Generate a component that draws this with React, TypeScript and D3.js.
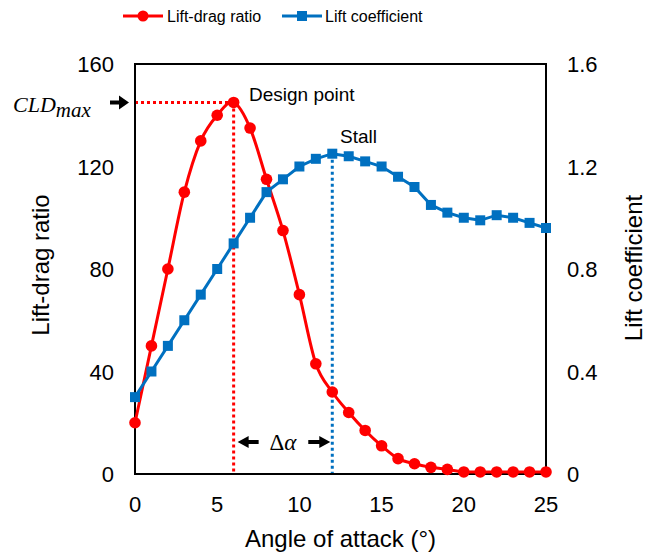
import React from "react";
import * as d3 from "d3";

const angles = d3.range(0, 26);
const liftDrag = [20, 50, 80, 110, 130, 140, 145, 135, 115, 95, 70, 43, 32, 24, 17, 11, 6, 4, 2.6, 1.8, 0.8, 0.8, 0.8, 0.8, 0.8, 0.8];
const liftCoef = [0.30, 0.40, 0.50, 0.60, 0.70, 0.80, 0.90, 1.00, 1.10, 1.15, 1.20, 1.23, 1.25, 1.24, 1.22, 1.20, 1.16, 1.12, 1.05, 1.02, 1.00, 0.99, 1.01, 1.00, 0.98, 0.96];
const xTicks = [0, 5, 10, 15, 20, 25];
const leftTicks = [0, 40, 80, 120, 160];
const rightTicks = [0, 0.4, 0.8, 1.2, 1.6];
const designAngle = 6;
const stallAngle = 12;

const RED = "#FF0000";
const BLUE = "#0070C0";
const FONT = "'Liberation Sans', Arial, sans-serif";
const SERIF = "'Liberation Serif', 'DejaVu Serif', serif";

export default function App() {
  const W = 660, H = 556;
  const left = 135, right = 546, top = 64, bottom = 474;
  const x = d3.scaleLinear().domain([0, 25]).range([left, right]);
  const yL = d3.scaleLinear().domain([0, 160]).range([bottom, top]);
  const yR = d3.scaleLinear().domain([0, 1.6]).range([bottom, top]);

  const redLine = d3.line<number>().x((_, i) => x(angles[i])).y((d) => yL(d)).curve(d3.curveCardinal.tension(0))(liftDrag) || "";
  const blueLine = d3.line<number>().x((_, i) => x(angles[i])).y((d) => yR(d))(liftCoef) || "";

  const dIdx = angles.indexOf(designAngle);
  const sIdx = angles.indexOf(stallAngle);
  const peakY = yL(liftDrag[dIdx]);
  const stallY = yR(liftCoef[sIdx]);
  const xd = x(designAngle);
  const xs = x(stallAngle);
  const arrowY = 442;

  return (
    <svg width={W} height={H} style={{ position: "absolute", left: 0, top: 0, background: "#fff" }} fontFamily={FONT}>
      <rect x={0} y={0} width={W} height={H} fill="#fff" />
      {/* legend */}
      <g>
        <line x1={123} x2={163} y1={16} y2={16} stroke={RED} strokeWidth={3} />
        <circle cx={143} cy={16} r={5.5} fill={RED} />
        <text x={167} y={22} fontSize={16} fill="#000">Lift-drag ratio</text>
        <line x1={282} x2={322} y1={16} y2={16} stroke={BLUE} strokeWidth={3} />
        <rect x={297} y={11} width={10} height={10} fill={BLUE} />
        <text x={325} y={22} fontSize={16} fill="#000">Lift coefficient</text>
      </g>

      {/* dotted guide lines */}
      <line x1={left} x2={xd} y1={peakY} y2={peakY} stroke={RED} strokeWidth={3} strokeDasharray="3,3" />
      <line x1={xd} x2={xd} y1={peakY} y2={bottom} stroke={RED} strokeWidth={3} strokeDasharray="3,3" />
      <line x1={xs} x2={xs} y1={stallY} y2={bottom} stroke={BLUE} strokeWidth={3} strokeDasharray="3,3" />

      {/* frame */}
      <rect x={left} y={top} width={right - left} height={bottom - top} fill="none" stroke="#000" strokeWidth={2} />

      {/* series */}
      <path d={redLine} fill="none" stroke={RED} strokeWidth={3} />
      {liftDrag.map((v, i) => (
        <circle key={"r" + i} cx={x(angles[i])} cy={yL(v)} r={5.8} fill={RED} />
      ))}
      <path d={blueLine} fill="none" stroke={BLUE} strokeWidth={3} />
      {liftCoef.map((v, i) => (
        <rect key={"b" + i} x={x(angles[i]) - 5} y={yR(v) - 5} width={10} height={10} fill={BLUE} />
      ))}

      {/* ticks */}
      {leftTicks.map((t) => (
        <text key={"l" + t} x={114} y={yL(t) + 8} fontSize={22} textAnchor="end" fill="#000">{t}</text>
      ))}
      {rightTicks.map((t) => (
        <text key={"rt" + t} x={567} y={yR(t) + 8} fontSize={22} textAnchor="start" fill="#000">{t === 0 ? "0" : t.toFixed(1)}</text>
      ))}
      {xTicks.map((t) => (
        <text key={"x" + t} x={x(t)} y={512} fontSize={22} textAnchor="middle" fill="#000">{t}</text>
      ))}

      {/* axis titles */}
      <text x={(left + right) / 2} y={547} fontSize={24} textAnchor="middle" fill="#000">Angle of attack (°)</text>
      <text transform={`translate(49,${(top + bottom) / 2 - 4}) rotate(-90)`} fontSize={24} textAnchor="middle" fill="#000">Lift-drag ratio</text>
      <text transform={`translate(642,${(top + bottom) / 2 - 1}) rotate(-90)`} fontSize={24} textAnchor="middle" fill="#000">Lift coefficient</text>

      {/* annotations */}
      <text x={249} y={101} fontSize={19} fill="#000">Design point</text>
      <text x={340} y={143} fontSize={19} fill="#000">Stall</text>

      <text x={13} y={112} fontSize={22} fontStyle="italic" fontFamily={SERIF} fill="#000">
        CLD<tspan fontSize={21} dy={5}>max</tspan>
      </text>
      <path d={`M110,${peakY - 2}H119V${peakY - 7}L${left - 6},${peakY}L119,${peakY + 7}V${peakY + 2}H110Z`} fill="#000" />

      {/* delta alpha arrows */}
      <path d={`M${xd + 4},${arrowY}L${xd + 15},${arrowY - 6}V${arrowY - 2}H${xd + 25}V${arrowY + 2}H${xd + 15}V${arrowY + 6}Z`} fill="#000" />
      <path d={`M${xs - 2},${arrowY}L${xs - 13},${arrowY - 6}V${arrowY - 2}H${xs - 24}V${arrowY + 2}H${xs - 13}V${arrowY + 6}Z`} fill="#000" />
      <text x={(xd + xs) / 2} y={450} fontSize={23} textAnchor="middle" fontFamily={SERIF} fill="#000">
        Δ<tspan fontStyle="italic">α</tspan>
      </text>
    </svg>
  );
}
